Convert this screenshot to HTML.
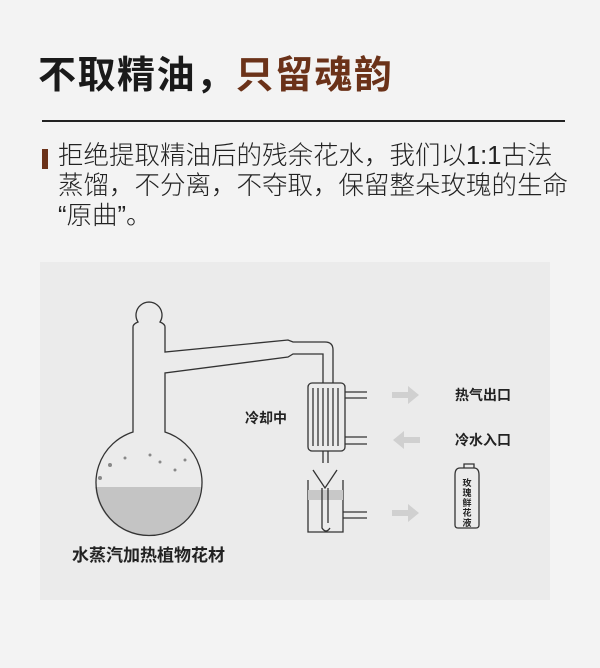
<!DOCTYPE html>
<html><head><meta charset="utf-8"><style>
body{margin:0;width:600px;height:668px;background:#f3f3f3;font-family:"Liberation Sans","Noto Sans CJK SC",sans-serif;position:relative;overflow:hidden}
.t{position:absolute;left:38px;top:44px;font-size:38px;font-weight:bold;color:#1a1a1a;letter-spacing:1.5px;white-space:nowrap;font-family:"Liberation Sans","Noto Sans CJK SC",sans-serif}
.t span{color:#6b3219}
.line{position:absolute;left:42px;top:120px;width:523px;height:2px;background:#222}
.p{position:absolute;left:58px;top:141px;font-size:25.5px;line-height:30px;color:#222;width:540px;white-space:nowrap;font-weight:300}
.bar{position:absolute;left:42px;top:149px;width:6px;height:20px;background:#6b3219}
.panel{position:absolute;left:40px;top:262px;width:510px;height:338px;background:#ebebeb}
</style></head><body>
<div class="t">不取精油，<span>只留魂韵</span></div>
<div class="line"></div>
<div class="bar"></div>
<div class="p">拒绝提取精油后的残余花水，我们以1:1古法<br>蒸馏，不分离，不夺取，保留整朵玫瑰的生命<br>“原曲”。</div>
<div class="panel"></div>
<svg width="600" height="668" style="position:absolute;left:0;top:0">
<g fill="none" stroke="#333" stroke-width="1.3">
<clipPath id="c"><circle cx="148" cy="483" r="53"/></clipPath>
<rect x="90" y="487" width="120" height="60" fill="#c4c4c4" stroke="none" clip-path="url(#c)"/>
<path d="M133,327 L133,432 A53,53 0 1 0 165,432 L165,373 L288,357 L293,354 L323,354 L323,383 M333,383 L333,350 Q333,342 325,342 L293,342 L288,340 L165,352 L165,327 Q165,324 160,322 A13,13 0 1 0 138,322 Q133,324 133,327"/>
<rect x="308" y="383" width="37" height="68" rx="4"/>
<path d="M313,388v58M318,388v58M323,388v58M328,388v58M333,388v58M338,388v58"/>
<path d="M345,392h22M345,398h22M345,437h22M345,444h22"/>
<path d="M323,451v12M328,451v12"/>
<path d="M313,470l12,18l12,-18"/>
<path d="M308,480v52h35v-52"/>
<rect x="308" y="490" width="35" height="10" fill="#c8c8c8" stroke="none"/>
<path d="M322,488v40q4,6 8,0M328,488v35"/>
<path d="M343,512h24M343,518h24"/>
<path d="M460,468h14v-4h-10v4M455,475q0,-7 5,-7h14q5,0 5,7v50q0,3 -3,3h-18q-3,0 -3,-3z"/>
</g>
<g fill="#d0d0d0">
<path d="M392,392h16v-6l11,9l-11,9v-6h-16z"/>
<path d="M420,437h-16v-6l-11,9l11,9v-6h16z"/>
<path d="M392,510h16v-6l11,9l-11,9v-6h-16z"/>
</g>
<g fill="#888"><circle cx="110" cy="465" r="2"/><circle cx="125" cy="458" r="1.5"/><circle cx="160" cy="462" r="1.5"/><circle cx="175" cy="470" r="1.5"/><circle cx="185" cy="460" r="1.5"/><circle cx="150" cy="455" r="1.5"/><circle cx="100" cy="478" r="2"/></g>
<g font-family="Liberation Sans,Noto Sans CJK SC,sans-serif" font-weight="bold" fill="#222">
<text x="455" y="400" font-size="14">热气出口</text>
<text x="455" y="445" font-size="14">冷水入口</text>
<text x="245" y="423" font-size="14">冷却中</text>
<text x="72" y="561" font-size="17">水蒸汽加热植物花材</text>
<g font-size="9" text-anchor="middle"><text x="467" y="486">玫</text><text x="467" y="496">瑰</text><text x="467" y="506">鲜</text><text x="467" y="516">花</text><text x="467" y="526">液</text></g>
</g>
</svg>
</body></html>
